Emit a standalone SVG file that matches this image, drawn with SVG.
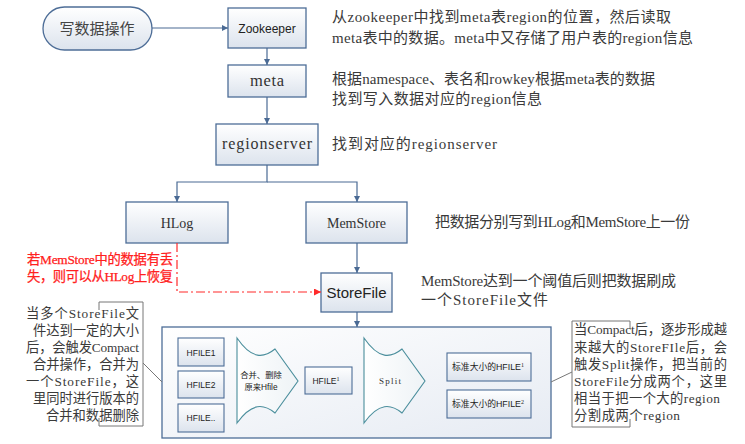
<svg xmlns="http://www.w3.org/2000/svg" width="745" height="444" viewBox="0 0 745 444">
<defs>
<linearGradient id="gBox" x1="0" y1="0" x2="0" y2="1">
<stop offset="0" stop-color="#ffffff"/>
<stop offset="1" stop-color="#dce3ed"/>
</linearGradient>
<linearGradient id="gCont" x1="0" y1="0" x2="1" y2="1">
<stop offset="0" stop-color="#ffffff"/>
<stop offset="1" stop-color="#e6ebf3"/>
</linearGradient>
<linearGradient id="gArrow" x1="0" y1="0" x2="1" y2="0">
<stop offset="0" stop-color="#ffffff"/>
<stop offset="1" stop-color="#eef3f6"/>
</linearGradient>
<marker id="ah" viewBox="0 0 10 10" refX="10" refY="5" markerWidth="6" markerHeight="6" markerUnits="userSpaceOnUse" orient="auto">
<path d="M0,0 L10,5 L0,10 z" fill="#4a6a94"/>
</marker>
<marker id="ahr" viewBox="0 0 10 10" refX="10" refY="5" markerWidth="7" markerHeight="7" markerUnits="userSpaceOnUse" orient="auto">
<path d="M0,0 L10,5 L0,10 z" fill="#ff2a2a"/>
</marker>
</defs>
<style>
.box{fill:url(#gBox);stroke:#4d6d97;stroke-width:1.3}
.ibox{fill:url(#gBox);stroke:#4d6d97;stroke-width:1.1}
.arr{fill:url(#gArrow);stroke:#4a8e9c;stroke-width:1.1}
.con{fill:none;stroke:#4a6a94;stroke-width:1.2}
.cn{font-family:"Liberation Serif","Noto Sans CJK SC",serif;font-size:15px;fill:#3a3a3a}
.cs{font-family:"Liberation Serif","Noto Sans CJK SC",serif;font-size:13.3px;fill:#3a3a3a}
.ser{font-family:"Liberation Serif",serif;fill:#333}
.sans{font-family:"Liberation Sans","Noto Sans CJK SC",sans-serif;fill:#222}
.red{fill:#ff2020;stroke:#ff2020;stroke-width:0.25}
.lead{fill:none;stroke:#777;stroke-width:1}
</style>

<!-- nodes -->
<g id="start">
<rect x="43" y="7" width="109" height="43" rx="21.5" ry="21.5" class="box"/>
<text x="97" y="33.5" text-anchor="middle" font-family="'Noto Sans CJK SC',sans-serif" font-size="15" fill="#444">写数据操作</text>
</g>
<g id="zookeeper">
<rect x="228" y="8" width="78" height="40" class="box"/>
<text x="267" y="32.5" text-anchor="middle" class="sans" font-size="12">Zookeeper</text>
</g>
<g id="meta">
<rect x="228" y="65" width="78" height="32" class="box"/>
<text x="267" y="86" text-anchor="middle" class="ser" font-size="16.5" textLength="34" lengthAdjust="spacing">meta</text>
</g>
<g id="regionserver">
<rect x="216" y="124" width="102" height="41" class="box"/>
<text x="267" y="148.5" text-anchor="middle" class="ser" font-size="16" textLength="90" lengthAdjust="spacing">regionserver</text>
</g>
<g id="hlog">
<rect x="126" y="202" width="102" height="41" class="box"/>
<text x="177" y="227.5" text-anchor="middle" class="ser" font-size="14">HLog</text>
</g>
<g id="memstore">
<rect x="306" y="202" width="101" height="41" class="box"/>
<text x="356.5" y="227.5" text-anchor="middle" class="ser" font-size="14">MemStore</text>
</g>
<g id="storefile">
<rect x="321" y="273" width="71" height="39" class="box"/>
<text x="356.5" y="298" text-anchor="middle" class="sans" font-size="15">StoreFile</text>
</g>

<g id="compaction">
<rect x="162" y="327" width="389" height="111" fill="url(#gCont)" stroke="#4d6d97" stroke-width="1.3"/>
<g id="hfile1">
<rect x="178" y="338" width="46" height="28" class="ibox"/>
<text x="201" y="355.5" text-anchor="middle" class="sans" font-size="8.5">HFILE1</text>
</g>
<g id="hfile2">
<rect x="178" y="371" width="46" height="27" class="ibox"/>
<text x="201" y="388" text-anchor="middle" class="sans" font-size="8.5">HFILE2</text>
</g>
<g id="hfile3">
<rect x="178" y="404" width="46" height="28" class="ibox"/>
<text x="201" y="421" text-anchor="middle" class="sans" font-size="8.5">HFILE..</text>
</g>
<g id="merge">
<path d="M237,338 C252,360 264,358 275,349 L298,381 L275,413 C264,404 252,402 237,423 Z" class="arr"/>
<text x="261" y="378" text-anchor="middle" class="sans" font-size="8.3">合并、删除</text>
<text x="261" y="390" text-anchor="middle" class="sans" font-size="8.3">原来Hfile</text>
</g>
<g id="hfile-merged">
<rect x="305" y="367" width="47" height="27" class="ibox"/>
<text x="326" y="384" text-anchor="middle" class="sans" font-size="8.5">HFILE<tspan font-family="'Liberation Serif',serif" font-size="6" dy="-3">1</tspan></text>
</g>
<g id="split">
<path d="M364,338 C379,360 391,358 402,349 L425,381 L402,413 C391,404 379,402 364,423 Z" class="arr"/>
<text x="390" y="384" text-anchor="middle" class="ser" font-size="9" textLength="22" lengthAdjust="spacing">Split</text>
</g>
<g id="std1">
<rect x="447" y="353" width="84" height="28" class="ibox"/>
<text x="488" y="370" text-anchor="middle" class="sans" font-size="8.8">标准大小的HFILE<tspan font-family="'Liberation Serif',serif" font-size="6" dy="-3">1</tspan></text>
</g>
<g id="std2">
<rect x="447" y="390" width="84" height="28" class="ibox"/>
<text x="488" y="407" text-anchor="middle" class="sans" font-size="8.8">标准大小的HFILE<tspan font-family="'Liberation Serif',serif" font-size="6" dy="-3">2</tspan></text>
</g>
</g>

<!-- connectors -->
<g id="connectors">
<line x1="152" y1="28" x2="228" y2="28" class="con" marker-end="url(#ah)"/>
<line x1="267" y1="48" x2="267" y2="65" class="con" marker-end="url(#ah)"/>
<line x1="267" y1="97" x2="267" y2="124" class="con" marker-end="url(#ah)"/>
<path d="M267,165 V182 H177 V202" class="con" marker-end="url(#ah)"/>
<path d="M267,182 H357 V202" class="con" marker-end="url(#ah)"/>
<line x1="357" y1="243" x2="357" y2="273" class="con" marker-end="url(#ah)"/>
<line x1="357" y1="312" x2="357" y2="327" class="con" marker-end="url(#ah)"/>
<path d="M177,243 V292 H321" fill="none" stroke="#ff2a2a" stroke-width="1.2" stroke-dasharray="9 3 2 3" marker-end="url(#ahr)"/>
<line x1="143" y1="363" x2="162" y2="382" class="lead"/>
<line x1="551" y1="382" x2="572" y2="372" class="lead"/>
</g>

<!-- annotations -->
<g id="notes">
<text x="332" y="22" class="cn" textLength="339" lengthAdjust="spacing">从zookeeper中找到meta表region的位置，然后读取</text>
<text x="332" y="43" class="cn" textLength="361" lengthAdjust="spacing">meta表中的数据。meta中又存储了用户表的region信息</text>
<text x="332" y="84" class="cn" textLength="323" lengthAdjust="spacing">根据namespace、表名和rowkey根据meta表的数据</text>
<text x="332" y="104" class="cn" textLength="210" lengthAdjust="spacing">找到写入数据对应的region信息</text>
<text x="332" y="149" class="cn" textLength="165" lengthAdjust="spacing">找到对应的regionserver</text>
<text x="435" y="227" class="cn" textLength="255" lengthAdjust="spacing">把数据分别写到HLog和MemStore上一份</text>
<text x="421" y="286" class="cn" textLength="255" lengthAdjust="spacing">MemStore达到一个阈值后则把数据刷成</text>
<text x="421" y="305" class="cn" textLength="127" lengthAdjust="spacing">一个StoreFile文件</text>

<text x="27" y="264" class="cs red" textLength="146" lengthAdjust="spacing">若MemStore中的数据有丢</text>
<text x="27" y="281" class="cs red" textLength="146" lengthAdjust="spacing">失，则可以从HLog上恢复</text>

<path d="M99,310 V302 H143 V426 H99 V418" class="lead"/>
<g text-anchor="end">
<text x="139" y="318" class="cs" textLength="113" lengthAdjust="spacing">当多个StoreFile文</text>
<text x="139" y="335" class="cs" textLength="106" lengthAdjust="spacing">件达到一定的大小</text>
<text x="139" y="352" class="cs" textLength="113" lengthAdjust="spacing">后，会触发Compact</text>
<text x="139" y="369" class="cs" textLength="106" lengthAdjust="spacing">合并操作，合并为</text>
<text x="139" y="386" class="cs" textLength="113" lengthAdjust="spacing">一个StoreFile，这</text>
<text x="139" y="403" class="cs" textLength="106" lengthAdjust="spacing">里同时进行版本的</text>
<text x="139" y="420" class="cs" textLength="93" lengthAdjust="spacing">合并和数据删除</text>
</g>

<path d="M630,329 V321 H572 V427 H630 V419" class="lead"/>
<text x="574" y="334" class="cs" textLength="153" lengthAdjust="spacing">当Compact后，逐步形成越</text>
<text x="574" y="352" class="cs" textLength="153" lengthAdjust="spacing">来越大的StoreFIle后，会</text>
<text x="574" y="369" class="cs" textLength="153" lengthAdjust="spacing">触发Split操作，把当前的</text>
<text x="574" y="386" class="cs" textLength="153" lengthAdjust="spacing">StoreFile分成两个，这里</text>
<text x="574" y="403" class="cs" textLength="146" lengthAdjust="spacing">相当于把一个大的region</text>
<text x="574" y="420" class="cs" textLength="106" lengthAdjust="spacing">分割成两个region</text>
</g>
</svg>
